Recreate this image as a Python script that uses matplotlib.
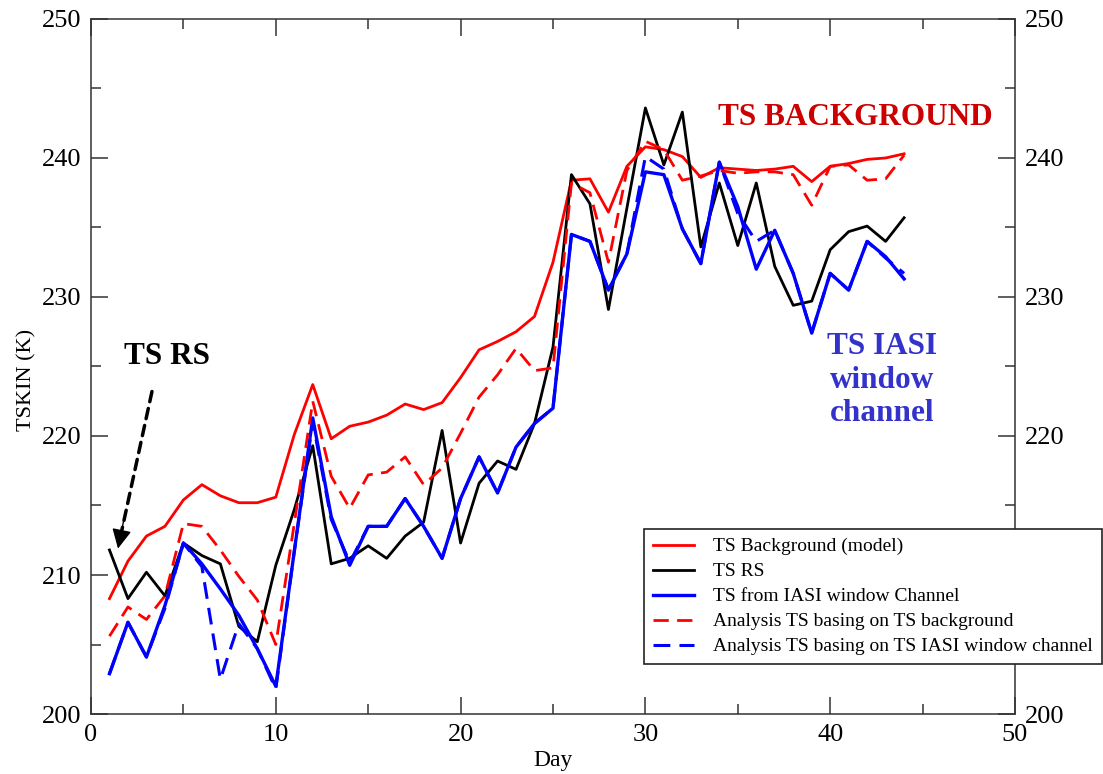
import matplotlib
matplotlib.use('Agg')
import matplotlib.pyplot as plt
import numpy as np

plt.rcParams['font.family'] = ['Liberation Serif', 'DejaVu Serif']

days = np.arange(1, 45)

# TS background (model)
ts_bg = [208.3, 211.0, 212.8, 213.5, 215.4, 216.5, 215.7, 215.2, 215.2, 215.6,
         220.1, 223.7, 219.8, 220.7, 221.0, 221.5, 222.3, 221.9, 222.4, 224.2,
         226.2, 226.8, 227.5, 228.6, 232.5, 238.4, 238.5, 236.1, 239.4, 240.8,
         240.6, 240.1, 238.6, 239.3, 239.2, 239.1, 239.2, 239.4, 238.3, 239.4,
         239.6, 239.9, 240.0, 240.3]
# TS RS
ts_rs = [211.8, 208.3, 210.2, 208.5, 212.3, 211.4, 210.8, 206.3, 205.2, 210.7,
         214.7, 219.3, 210.8, 211.2, 212.1, 211.2, 212.8, 213.8, 220.4, 212.3,
         216.6, 218.2, 217.6, 220.9, 226.4, 238.8, 236.7, 229.1, 236.4, 243.6,
         239.5, 243.3, 233.6, 238.2, 233.7, 238.2, 232.2, 229.4, 229.7, 233.4,
         234.7, 235.1, 234.0, 235.7]
# TS from IASI window channel
ts_iasi = [202.9, 206.6, 204.1, 207.8, 212.3, 210.8, 209.0, 207.1, 204.7, 202.0,
           211.7, 221.3, 214.2, 210.7, 213.5, 213.5, 215.5, 213.5, 211.2, 215.5,
           218.5, 215.9, 219.2, 220.9, 222.0, 234.5, 234.0, 230.5, 233.1, 239.0,
           238.8, 234.9, 232.4, 239.7, 236.5, 232.0, 234.8, 231.7, 227.4, 231.7,
           230.5, 234.0, 232.9, 231.3]
# analysis basing on TS background
an_bg = [205.6, 207.7, 206.8, 208.5, 213.7, 213.5, 211.8, 209.9, 208.2, 205.0,
         213.7, 222.5, 217.1, 214.8, 217.2, 217.4, 218.5, 216.5, 217.7, 220.2,
         222.8, 224.4, 226.3, 224.7, 224.9, 238.2, 237.5, 232.5, 239.1, 241.2,
         240.6, 238.4, 238.7, 239.1, 238.9, 239.0, 239.0, 238.8, 236.6, 239.4,
         239.5, 238.4, 238.5, 240.2]
# analysis basing on TS IASI window channel
an_iasi = [202.9, 206.6, 204.1, 207.6, 212.3, 210.6, 202.5, 206.5, 204.7, 201.8,
           211.7, 221.0, 214.0, 210.9, 213.5, 213.5, 215.5, 213.5, 211.2, 215.5,
           218.5, 215.9, 219.2, 220.9, 222.0, 234.5, 234.0, 230.5, 233.1, 240.1,
           239.2, 234.9, 232.4, 239.7, 236.0, 234.0, 234.8, 231.7, 227.4, 231.7,
           230.5, 234.0, 232.8, 231.7]

labels = ['TS Background (model)', 'TS RS', 'TS from IASI window Channel',
          'Analysis TS basing on TS background',
          'Analysis TS basing on TS IASI window channel']

fig = plt.figure(figsize=(11.03, 7.74), dpi=100)
ax = fig.add_axes([0.0825, 0.0775, 0.8377, 0.898])

dash = (5.5, 3)
ax.plot(days, ts_bg, color='#ff0000', lw=2, label=labels[0])
ax.plot(days, ts_rs, color='black', lw=2, label=labels[1])
ax.plot(days, ts_iasi, color='#0000ff', lw=2.4, label=labels[2])
ax.plot(days, an_bg, color='#ff0000', lw=2, dashes=dash, label=labels[3])
ax.plot(days, an_iasi, color='#0000ff', lw=2.2, dashes=dash, label=labels[4])

ax.set_xlim(0, 50)
ax.set_ylim(200, 250)
ax.set_xticks(np.arange(0, 51, 10))
ax.set_xticks(np.arange(5, 50, 10), minor=True)
ax.set_yticks(np.arange(200, 251, 10))
ax.set_yticks(np.arange(205, 250, 10), minor=True)
ax.tick_params(which='both', direction='in', top=True, right=True,
               labelright=True, color='#333333', width=1.1)
ax.tick_params(which='major', length=12, labelsize=19, pad=7)
ax.tick_params(which='minor', length=7)
for s in ax.spines.values():
    s.set_linewidth(1.1)
    s.set_color('#333333')

ax.set_xlabel('Day', fontsize=17)
ax.set_ylabel('TSKIN (K)', fontsize=16)
ax.xaxis.set_label_coords(0.5, -0.052)
ax.yaxis.set_label_coords(-0.059, 0.48)

# annotations
ax.text(41.35, 242.9, 'TS BACKGROUND', color='#cc0000', fontsize=22.5,
        fontweight='bold', ha='center', va='center')
ax.text(42.8, 224.0, 'TS IASI\nwindow\nchannel', color='#3333cc', fontsize=22.5,
        fontweight='bold', ha='center', va='center', linespacing=1.2)
ax.text(4.1, 225.7, 'TS RS', color='black', fontsize=22.5,
        fontweight='bold', ha='center', va='center')

# dashed arrow: dashed shaft plus a solid head
tip = (1.46, 211.9)
tail = (3.3, 223.2)
ax.annotate('', xy=(1.6, 212.8), xytext=tail,
            arrowprops=dict(arrowstyle='-', linestyle=(0, (3, 2)), lw=2.5,
                            color='black', shrinkA=0, shrinkB=0))
ax.annotate('', xy=tip, xytext=(1.75, 213.8),
            arrowprops=dict(arrowstyle='-|>', lw=1, color='black',
                            mutation_scale=30, shrinkA=0, shrinkB=0))

leg = ax.legend(loc='upper left', bbox_to_anchor=(0.5839, 0.3165),
                bbox_transform=fig.transFigure, fontsize=14, frameon=True,
                fancybox=False, framealpha=1, edgecolor='#222222',
                borderaxespad=0, borderpad=0.45, labelspacing=0.38,
                handlelength=2.1, handletextpad=1.0)
leg.get_frame().set_linewidth(1.2)
leg.set_zorder(10)

fig.savefig('out.png', dpi=100)
